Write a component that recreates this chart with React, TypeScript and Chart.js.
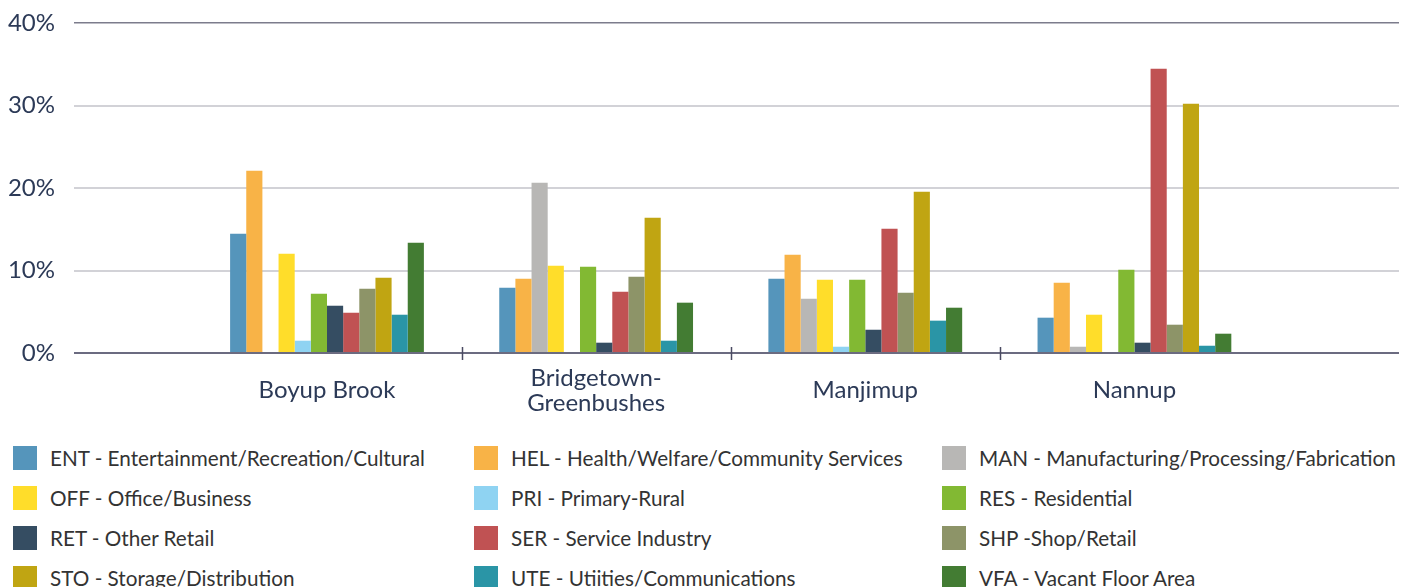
import React, { useEffect, useRef } from "react";
import { Chart, registerables } from "chart.js";

Chart.register(...registerables);

// ---------- data ----------
const categories: (string | string[])[] = ["Boyup Brook", ["Bridgetown-", "Greenbushes"], "Manjimup", "Nannup"];
const yTicks = [0, 10, 20, 30, 40];

const seriesLabels = [
  "ENT - Entertainment/Recreation/Cultural",
  "HEL - Health/Welfare/Community Services",
  "MAN - Manufacturing/Processing/Fabrication",
  "OFF - Office/Business",
  "PRI - Primary-Rural",
  "RES - Residential",
  "RET - Other Retail",
  "SER - Service Industry",
  "SHP -Shop/Retail",
  "STO - Storage/Distribution",
  "UTE - Utiities/Communications",
  "VFA - Vacant Floor Area",
];

const seriesColors = [
  "#5595bb",
  "#f8b347",
  "#b8b7b5",
  "#ffdd2a",
  "#8fd3f2",
  "#82b933",
  "#354d62",
  "#c05253",
  "#8d9468",
  "#c0a512",
  "#2a95a6",
  "#437c33",
];

const ENT = [14.46, 7.92, 9.0, 4.28];
const HEL = [22.1, 9.0, 11.92, 8.52];
const MAN = [0, 20.64, 6.58, 0.76];
const OFF = [12.04, 10.58, 8.88, 4.64];
const PRI = [1.49, 0, 0.76, 0];
const RES = [7.19, 10.46, 8.88, 10.1];
const RET = [5.73, 1.25, 2.82, 1.25];
const SER = [4.88, 7.43, 15.07, 34.46];
const SHP = [7.79, 9.25, 7.31, 3.43];
const STO = [9.13, 16.4, 19.55, 30.22];
const UTE = [4.64, 1.49, 3.92, 0.88];
const VFA = [13.37, 6.1, 5.49, 2.34];

const seriesValues = [ENT, HEL, MAN, OFF, PRI, RES, RET, SER, SHP, STO, UTE, VFA];

// ---------- layout constants ----------
const W = 1411;
const H = 430;
const FONT = "Lato, 'Open Sans', sans-serif";
const legendCols = [13, 474, 942];
const legendRowTop = 446;
const legendRowStep = 40;

const boundaryTicks = {
  id: "boundaryTicks",
  afterDatasetsDraw(chart: any) {
    const xs = chart.scales.x;
    const ys = chart.scales.y;
    const y0 = ys.getPixelForValue(0);
    const ctx = chart.ctx;
    ctx.save();
    ctx.strokeStyle = "#4a4a62";
    ctx.lineWidth = 1.5;
    for (let i = 1; i < categories.length; i++) {
      const x = Math.round(xs.getPixelForValue(i + 0.5)) + 0.5;
      ctx.beginPath();
      ctx.moveTo(x, y0 - 6);
      ctx.lineTo(x, y0 + 7);
      ctx.stroke();
    }
    ctx.restore();
  },
};

export default function App() {
  const ref = useRef<HTMLCanvasElement>(null);

  useEffect(() => {
    if (!ref.current) return;
    const chart = new Chart(ref.current, {
      type: "bar",
      data: {
        datasets: seriesLabels.map((label, s) => ({
          label,
          data: seriesValues[s].map((v, i) => ({ x: i + 1, y: v })),
          backgroundColor: seriesColors[s],
          borderWidth: 0,
          categoryPercentage: 0.72,
          barPercentage: 1.0,
        })),
      },
      options: {
        responsive: false,
        animation: false,
        devicePixelRatio: 1,
        layout: { padding: { left: 0, right: 12, top: 23, bottom: 0 } },
        plugins: { legend: { display: false }, tooltip: { enabled: false } },
        scales: {
          x: {
            type: "linear",
            offset: false,
            min: 0.06,
            max: 4.983,
            afterBuildTicks: (scale: any) => {
              scale.ticks = categories.map((_, i) => ({ value: i + 1 }));
            },
            afterFit: (scale: any) => {
              scale.height = H - 353;
              scale.paddingLeft = 0;
              scale.paddingRight = 0;
            },
            grid: { display: false, drawTicks: false, offset: false },
            border: { display: false },
            ticks: {
              autoSkip: false,
              maxRotation: 0,
              minRotation: 0,
              padding: 25,
              crossAlign: "center",
              color: "#2c3a57",
              font: { family: FONT, size: 24, lineHeight: 1.05 },
              callback: (v: any) => {
                const idx = Math.round(Number(v)) - 1;
                return categories[idx] ?? "";
              },
            },
          },
          y: {
            min: 0,
            max: 40,
            afterBuildTicks: (scale: any) => {
              scale.ticks = yTicks.map((v) => ({ value: v }));
            },
            afterFit: (scale: any) => {
              scale.width = 74;
              scale.paddingTop = 0;
              scale.paddingBottom = 0;
            },
            border: { display: false },
            grid: {
              drawTicks: false,
              color: (c: any) => (c.tick && c.tick.value === 0 ? "#6b6b80" : c.tick && c.tick.value === 40 ? "#7c7c8c" : "#d2d2d7"),
              lineWidth: (c: any) => (c.tick && c.tick.value === 40 ? 1.5 : 2),
            },
            ticks: {
              padding: 19,
              color: "#2c3a57",
              font: { family: FONT, size: 24 },
              callback: (v: any) => `${v}%`,
            },
          },
        },
      },
      plugins: [boundaryTicks],
    });
    return () => chart.destroy();
  }, []);

  return (
    <div
      style={{
        position: "fixed",
        left: 0,
        top: 0,
        width: W,
        height: 587,
        overflow: "hidden",
        background: "#fff",
      }}
    >
      <canvas ref={ref} width={W} height={H} style={{ display: "block", width: W, height: H }} />
      {seriesLabels.map((label, i) => {
        const col = i % 3;
        const row = Math.floor(i / 3);
        const left = legendCols[col];
        const top = legendRowTop + row * legendRowStep;
        return (
          <div key={label} style={{ position: "absolute", left, top, height: 24, display: "flex", alignItems: "center" }}>
            <span style={{ display: "inline-block", width: 24, height: 24, background: seriesColors[i] }} />
            <span
              style={{
                marginLeft: 13,
                fontFamily: FONT,
                fontSize: 20.7,
                lineHeight: "24px",
                color: "#333",
                whiteSpace: "nowrap",
              }}
            >
              {label}
            </span>
          </div>
        );
      })}
    </div>
  );
}
